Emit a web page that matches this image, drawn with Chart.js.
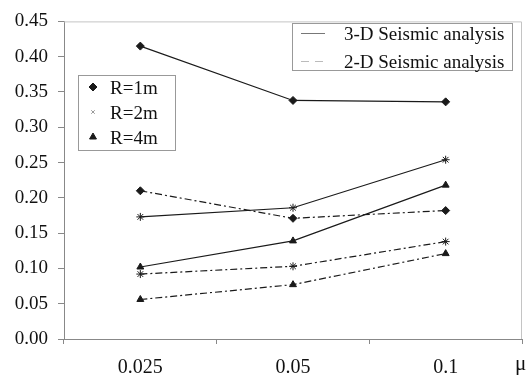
<!DOCTYPE html>
<html>
<head>
<meta charset="utf-8">
<script src="https://cdn.jsdelivr.net/npm/chart.js@4/dist/chart.umd.min.js"></script>
<style>
body { margin: 0; background: #fff; }
#wrap { position: relative; width: 528px; height: 376px; font-family: "Liberation Serif", serif; color: #111; }
#wrap canvas { position: absolute; left: 0; top: 0; }
.box { position: absolute; border: 1px solid #999; box-sizing: border-box; }
.lbl { position: absolute; font-size: 19px; line-height: 19px; white-space: nowrap; }
</style>
</head>
<body>
<div id="wrap">
  <canvas id="chart" width="528" height="376"></canvas>
  <div class="box" style="left:78px;top:75px;width:98px;height:76px;"></div>
  <div class="lbl" style="left:110px;top:78px;">R=1m</div>
  <div class="lbl" style="left:110px;top:103px;">R=2m</div>
  <div class="lbl" style="left:110px;top:128px;">R=4m</div>
  <div class="box" style="left:292px;top:23px;width:221px;height:48px;"></div>
  <div class="lbl" style="left:344px;top:24px;">3-D Seismic analysis</div>
  <div class="lbl" style="left:344px;top:52px;">2-D Seismic analysis</div>
  <div class="lbl" style="left:515px;top:354px;font-size:21px;">μ</div>
</div>
<script>
// friction coefficient categories
const mu = ['0.025', '0.05', '0.1'];

// 3-D seismic analysis
const r1_3d = [0.415, 0.338, 0.336];
const r2_3d = [0.173, 0.186, 0.254];
const r4_3d = [0.102, 0.139, 0.218];

// 2-D seismic analysis
const r1_2d = [0.210, 0.171, 0.182];
const r2_2d = [0.092, 0.103, 0.138];
const r4_2d = [0.056, 0.077, 0.121];

const yMin = 0, yMax = 0.45, yStep = 0.05;

const ink = '#1a1a1a';
const dashDot = [7, 3, 2, 3];

function series(data, style, dashed) {
    return {
        data: data,
        borderColor: ink,
        borderWidth: 1.2,
        borderDash: dashed ? dashDot : [],
        pointStyle: style,
        pointRadius: 4,
        pointBackgroundColor: ink,
        pointBorderColor: ink,
        pointBorderWidth: 1,
        fill: false,
        tension: 0
    };
}

// light frame on top and right of the plot area
const framePlugin = {
    id: 'frame',
    beforeDatasetsDraw(chart) {
        const a = chart.chartArea, ctx = chart.ctx;
        ctx.save();
        ctx.strokeStyle = '#c4c4c4';
        ctx.lineWidth = 1;
        ctx.beginPath();
        ctx.moveTo(a.left, a.top + 0.5);
        ctx.lineTo(a.right - 0.5, a.top + 0.5);
        ctx.lineTo(a.right - 0.5, a.bottom);
        ctx.stroke();
        ctx.restore();
    }
};

// markers and line samples for the two hand-made legend boxes
const legendPlugin = {
    id: 'legendMarks',
    afterDraw(chart) {
        const ctx = chart.ctx;
        ctx.save();
        ctx.fillStyle = ink;
        ctx.strokeStyle = ink;
        ctx.lineWidth = 1;
        Chart.helpers.drawPoint(ctx, { pointStyle: 'rectRot', radius: 4, rotation: 0, borderWidth: 1 }, 93, 87);
        ctx.strokeStyle = '#999';
        ctx.fillStyle = '#999';
        Chart.helpers.drawPoint(ctx, { pointStyle: 'crossRot', radius: 2.5, rotation: 0, borderWidth: 1 }, 93, 112);
        ctx.strokeStyle = ink;
        ctx.fillStyle = ink;
        Chart.helpers.drawPoint(ctx, { pointStyle: 'triangle', radius: 4, rotation: 0, borderWidth: 1 }, 93, 137);

        ctx.strokeStyle = '#777';
        ctx.beginPath();
        ctx.moveTo(301, 33.5);
        ctx.lineTo(325, 33.5);
        ctx.stroke();
        ctx.strokeStyle = '#bbb';
        ctx.setLineDash([8, 6]);
        ctx.beginPath();
        ctx.moveTo(301, 61.5);
        ctx.lineTo(325, 61.5);
        ctx.stroke();
        ctx.restore();
    }
};

const tickFont = { family: 'Liberation Serif', size: 19 };

new Chart(document.getElementById('chart'), {
    type: 'line',
    data: {
        labels: mu,
        datasets: [
            series(r1_3d, 'rectRot', false),
            series(r2_3d, 'star', false),
            series(r4_3d, 'triangle', false),
            series(r1_2d, 'rectRot', true),
            series(r2_2d, 'star', true),
            series(r4_2d, 'triangle', true)
        ]
    },
    options: {
        responsive: false,
        animation: false,
        layout: { padding: { left: 0, top: 15, right: 6, bottom: 0 } },
        plugins: { legend: { display: false }, tooltip: { enabled: false } },
        scales: {
            x: {
                type: 'category',
                offset: true,
                grid: { offset: true, drawOnChartArea: false, drawTicks: true, tickLength: 5, color: '#888' },
                border: { color: '#888' },
                ticks: { font: { family: 'Liberation Serif', size: 20 }, color: '#111', padding: 12, maxRotation: 0 },
                afterFit(s) { s.height = 37; }
            },
            y: {
                min: yMin,
                max: yMax,
                grid: { drawOnChartArea: false, drawTicks: true, tickLength: 6, color: '#888' },
                border: { color: '#888' },
                ticks: {
                    stepSize: yStep,
                    font: tickFont,
                    color: '#111',
                    padding: 10,
                    callback: v => v.toFixed(2)
                },
                afterFit(s) { s.width = 64; }
            }
        }
    },
    plugins: [framePlugin, legendPlugin]
});
</script>
</body>
</html>
